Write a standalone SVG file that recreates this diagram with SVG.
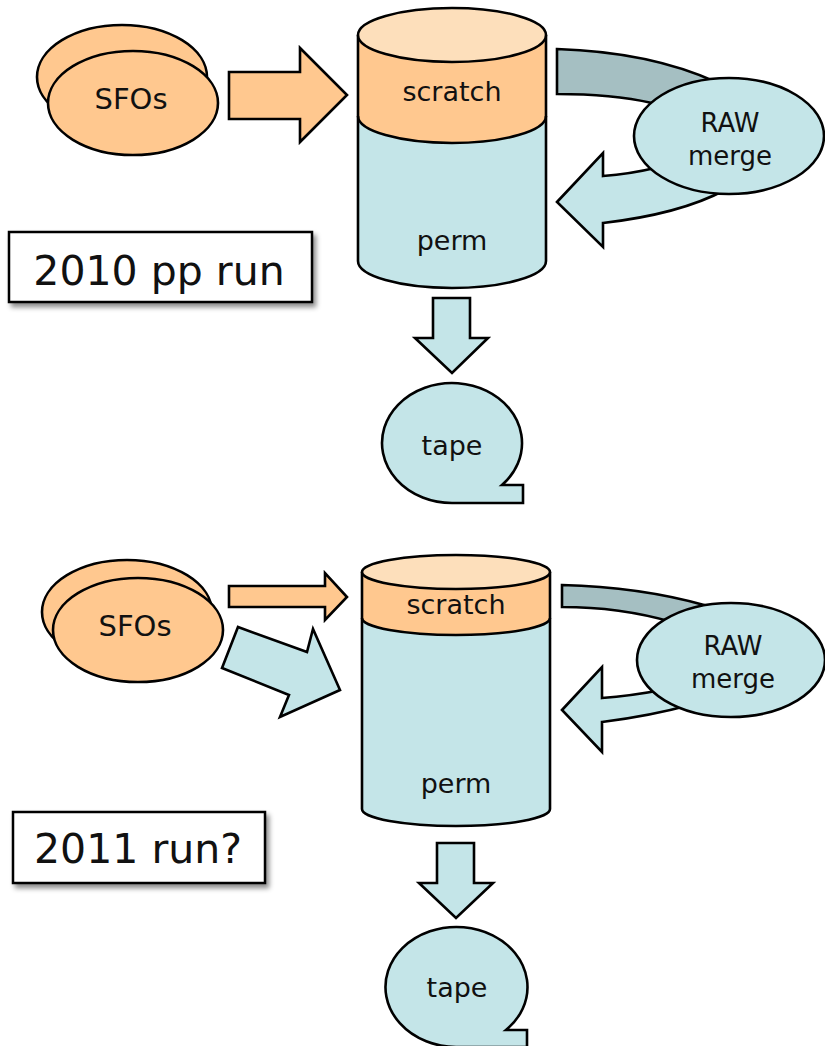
<svg xmlns="http://www.w3.org/2000/svg" width="825" height="1046" viewBox="0 0 825 1046">
<defs>
<filter id="sh" x="-10%" y="-20%" width="130%" height="160%">
<feDropShadow dx="3" dy="4" stdDeviation="2.5" flood-color="#000" flood-opacity="0.45"/>
</filter>
</defs>
<style>
.o{fill:#ffc88f;stroke:#000;stroke-width:2.6}
.lo{fill:#fddfbb;stroke:#000;stroke-width:2.6}
.b{fill:#c4e5e8;stroke:#000;stroke-width:2.6}
.g{fill:#a5bfc2;stroke:#000;stroke-width:2.6}
.ln{fill:none;stroke:#000;stroke-width:2.6}
.box{fill:#fff;stroke:#000;stroke-width:2.5}
text{font-family:"DejaVu Sans","Liberation Sans",sans-serif;fill:#111;text-anchor:middle}
.t26{font-size:27px}
.t28{font-size:29px}
.t25{font-size:26px}
.t41{font-size:41px}
</style>
<rect width="825" height="1046" fill="#fff"/>

<g id="connectors">
<path class="o" d="M229,72 L300,72 L300,48 L347,95 L300,142 L300,119 L229,119 Z"/>
<path class="g" d="M557,49 Q650,52 716,82 L735,100 L700,118 L652,103 Q612,94 557,94 Z"/>
<path class="b" d="M557,202 L603,153 L603,176 Q630,174 655,168 L700,150 L735,185 L725,190 Q680,214 603,223 L603,247 Z"/>
<path class="b" d="M433,298 L470,298 L470,338 L488,338 L452,373 L415,338 L433,338 Z"/>
<path class="o" d="M229,586 L325,586 L325,573 L347,597 L325,620 L325,607 L229,607 Z"/>
<path class="b" d="M238,627 L307,652 L313,629 L340,690 L280,717 L289,695 L222,668 Z"/>
<path class="g" d="M562,585 Q640,587 704,605 L725,615 L700,640 L672,622 Q620,607 562,607 Z"/>
<path class="b" d="M562,710 L602,667 L602,698 Q630,696 662,690 L700,670 L720,700 L690,705 Q650,716 602,722 L602,752 Z"/>
<path class="b" d="M437,843 L474,843 L474,883 L493,883 L456,918 L419,883 L437,883 Z"/>
</g>

<g id="sfos-2010">
<ellipse class="o" cx="122" cy="77" rx="85" ry="52"/>
<ellipse class="o" cx="133" cy="103" rx="85" ry="52"/>
<text class="t28" x="131" y="109">SFOs</text>
</g>

<g id="cylinder-2010">
<path fill="#c4e5e8" d="M358,35 L358,261 A94,27 0 0 0 546,261 L546,35 Z"/>
<path fill="#ffc88f" d="M358,35 L358,116 A94,27 0 0 0 546,116 L546,35 Z"/>
<path class="ln" d="M358,116 A94,27 0 0 0 546,116"/>
<path class="ln" d="M358,35 L358,261 A94,27 0 0 0 546,261 L546,35"/>
<ellipse class="lo" cx="452" cy="35" rx="94" ry="27"/>
<text class="t26" x="452" y="101">scratch</text>
<text class="t26" x="452" y="250">perm</text>
</g>

<g id="raw-2010">
<ellipse class="b" cx="729" cy="136" rx="95" ry="58"/>
<text class="t25" x="730" y="132">RAW</text>
<text class="t25" x="730" y="165">merge</text>
</g>

<g id="label-2010">
<rect class="box" x="9" y="232" width="303" height="70" filter="url(#sh)"/>
<text class="t41" x="159" y="285">2010 pp run</text>
</g>

<g id="tape-2010">
<path class="b" d="M502,485 A70,60 0 1 0 452,503 L523,503 L523,485 Z"/>
<text class="t26" x="452" y="455">tape</text>
</g>

<g id="sfos-2011">
<ellipse class="o" cx="127" cy="612" rx="85" ry="52"/>
<ellipse class="o" cx="138" cy="630" rx="85" ry="52"/>
<text class="t28" x="135" y="636">SFOs</text>
</g>

<g id="cylinder-2011">
<path fill="#c4e5e8" d="M362,572 L362,809 A94,17 0 0 0 550,809 L550,572 Z"/>
<path fill="#ffc88f" d="M362,572 L362,618 A94,17 0 0 0 550,618 L550,572 Z"/>
<path class="ln" d="M362,618 A94,17 0 0 0 550,618"/>
<path class="ln" d="M362,572 L362,809 A94,17 0 0 0 550,809 L550,572"/>
<ellipse class="lo" cx="456" cy="572" rx="94" ry="17"/>
<text class="t26" x="456" y="614">scratch</text>
<text class="t26" x="456" y="793">perm</text>
</g>

<g id="raw-2011">
<ellipse class="b" cx="731" cy="660" rx="94" ry="57"/>
<text class="t25" x="733" y="655">RAW</text>
<text class="t25" x="733" y="688">merge</text>
</g>

<g id="label-2011">
<rect class="box" x="13" y="812" width="252" height="71" filter="url(#sh)"/>
<text class="t41" x="138" y="863">2011 run?</text>
</g>

<g id="tape-2011">
<path class="b" d="M506,1030 A71,60 0 1 0 456,1047 L527,1047 L527,1030 Z"/>
<text class="t26" x="457" y="997">tape</text>
</g>
</svg>
